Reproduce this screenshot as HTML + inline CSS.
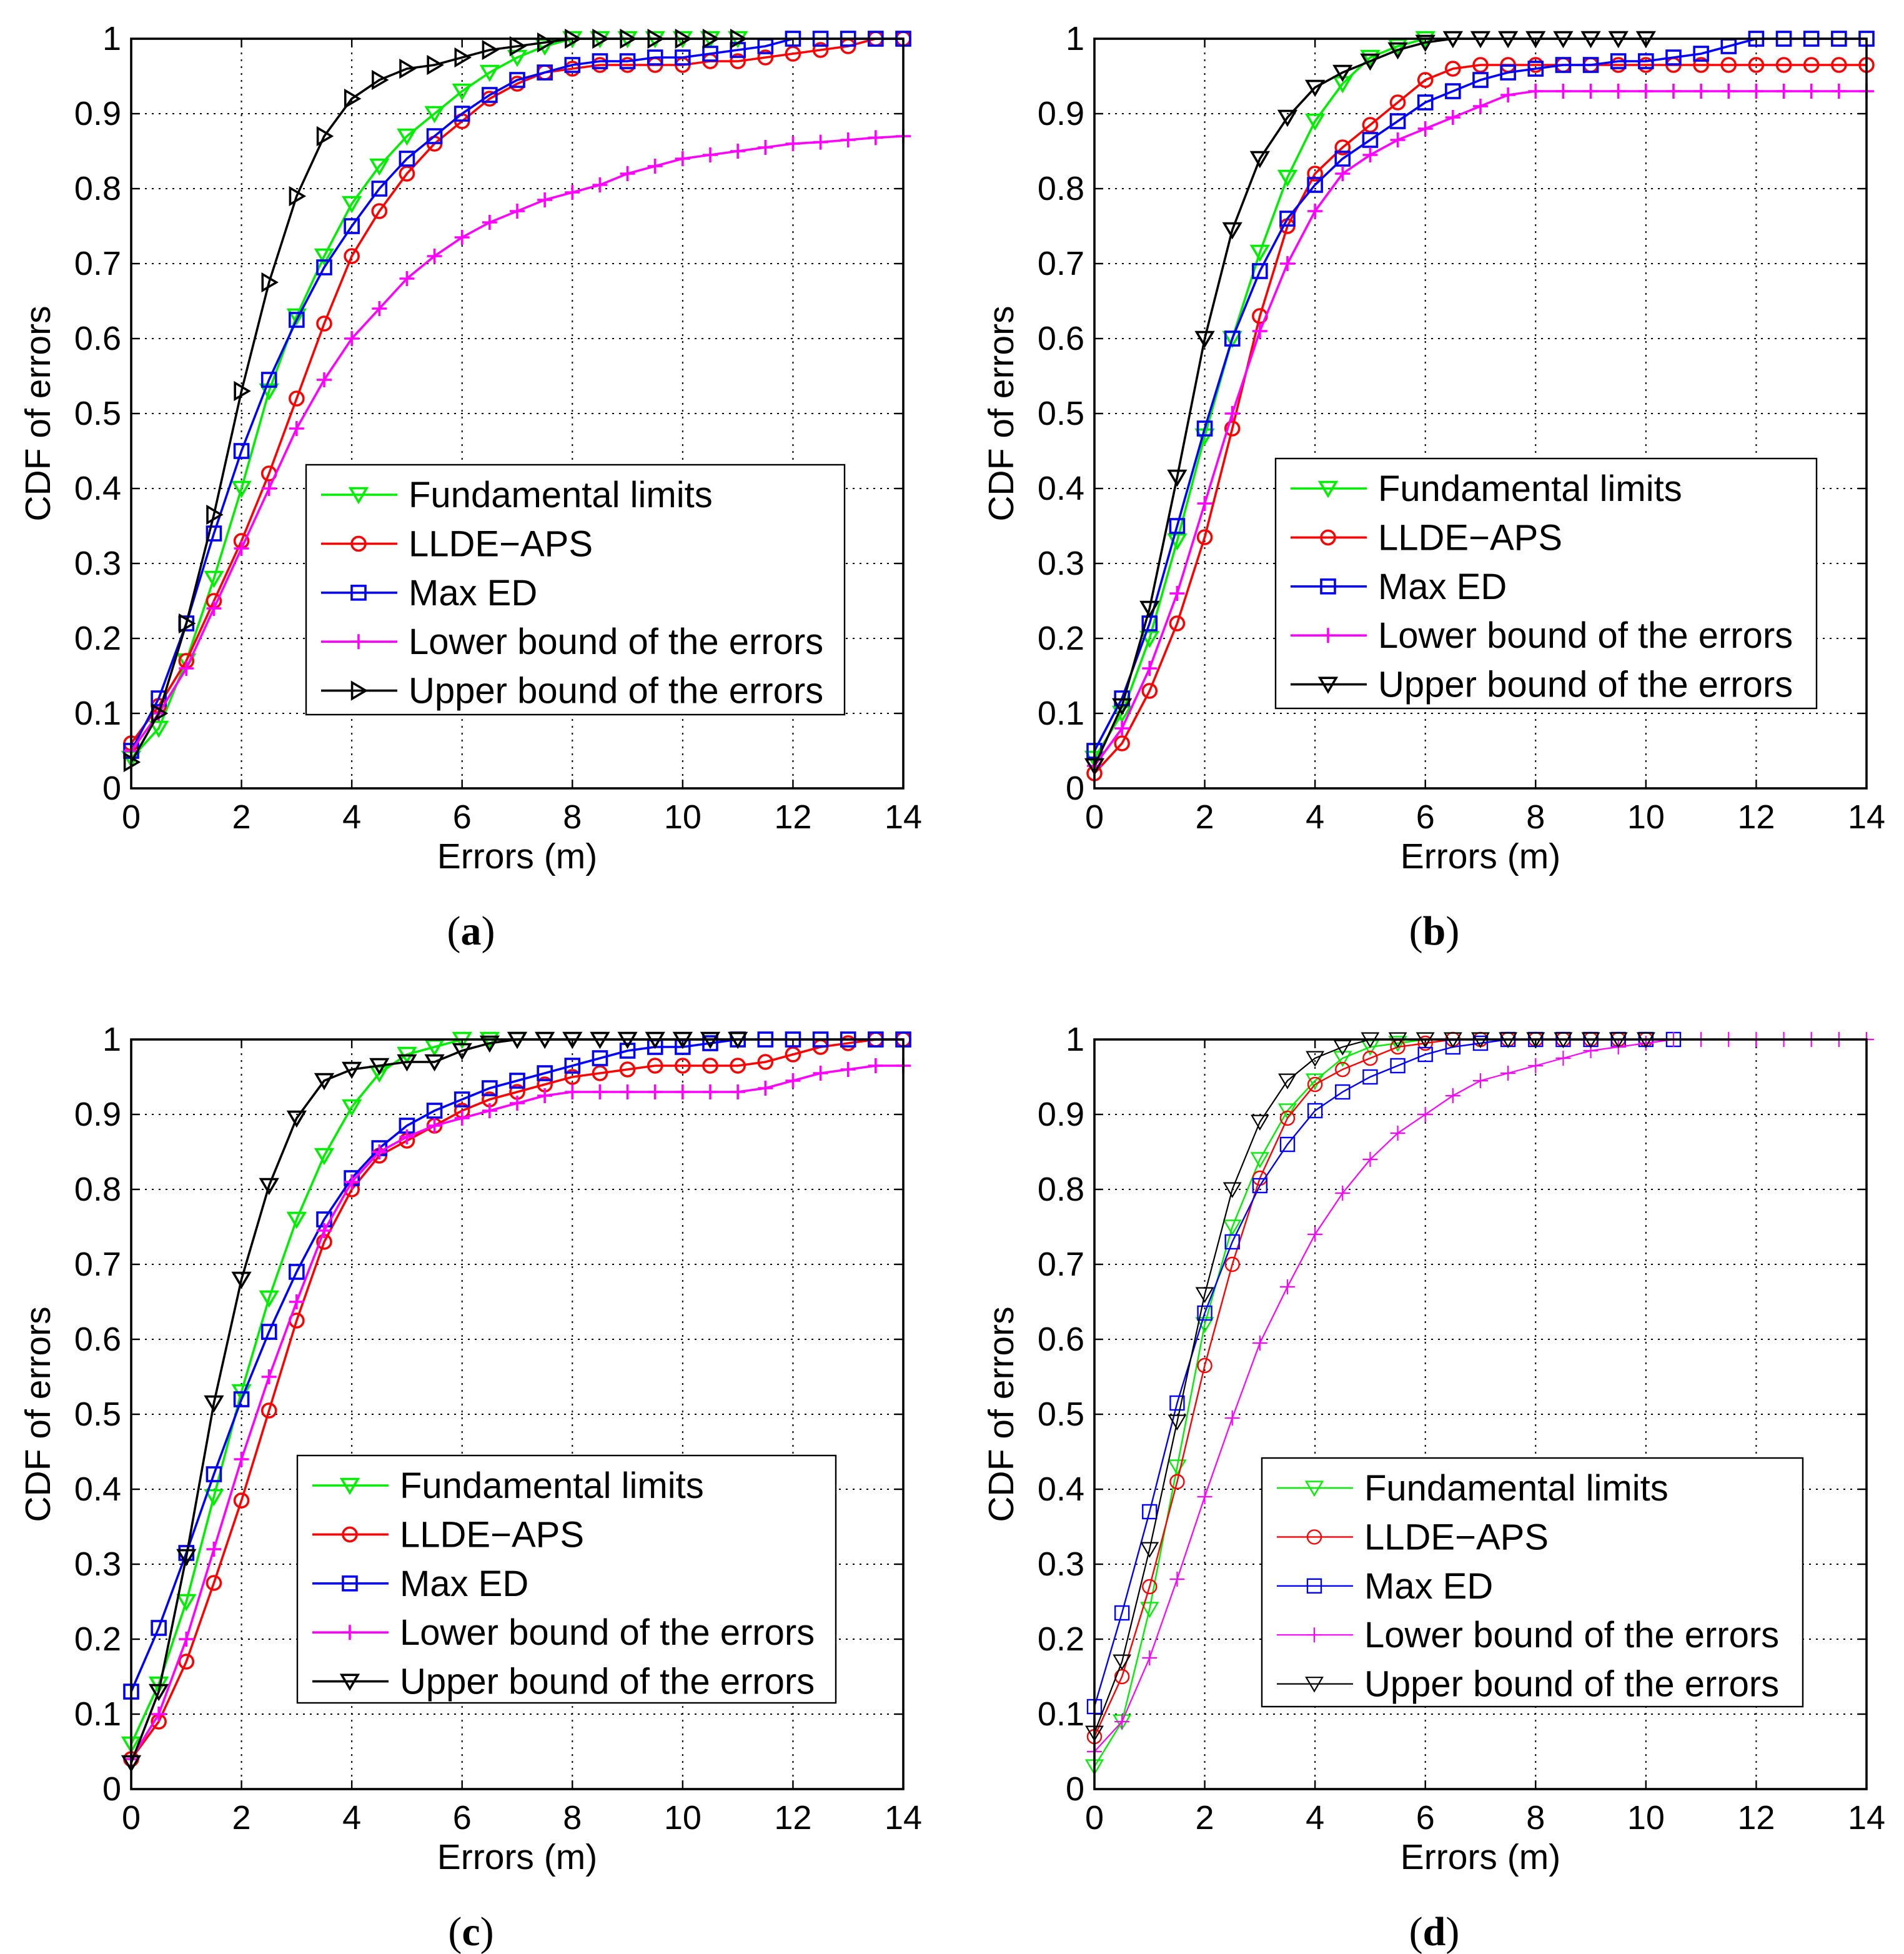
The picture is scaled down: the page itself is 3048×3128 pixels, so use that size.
<!DOCTYPE html>
<html><head><meta charset="utf-8"><style>
html,body{margin:0;padding:0;background:#fff}
svg{display:block}
</style></head><body>
<svg id="fig" width="3048" height="3128" viewBox="0 0 1524 1564" xmlns="http://www.w3.org/2000/svg"></svg>
<script>
const xTicks=[0,2,4,6,8,10,12,14];
const yTicks=[0,0.1,0.2,0.3,0.4,0.5,0.6,0.7,0.8,0.9,1];
const yTickLabels=["0","0.1","0.2","0.3","0.4","0.5","0.6","0.7","0.8","0.9","1"];
const seriesNames=["Fundamental limits","LLDE\u2212APS","Max ED","Lower bound of the errors","Upper bound of the errors"];
const xStep=0.5;
// panel (a)
const aFund=[0.04,0.08,0.17,0.28,0.40,0.53,0.63,0.71,0.78,0.83,0.87,0.90,0.93,0.955,0.975,0.99,1,1,1,1,1,1,1];
const aLlde=[0.06,0.11,0.17,0.25,0.33,0.42,0.52,0.62,0.71,0.77,0.82,0.86,0.89,0.92,0.94,0.955,0.96,0.965,0.965,0.965,0.965,0.97,0.97,0.975,0.98,0.985,0.99,1,1];
const aMax=[0.05,0.12,0.22,0.34,0.45,0.545,0.625,0.695,0.75,0.80,0.84,0.87,0.90,0.925,0.945,0.955,0.965,0.97,0.97,0.975,0.975,0.98,0.985,0.99,1,1,1,1,1];
const aLow=[0.05,0.10,0.16,0.24,0.32,0.40,0.48,0.545,0.60,0.64,0.68,0.71,0.735,0.755,0.77,0.785,0.795,0.805,0.82,0.83,0.84,0.845,0.85,0.855,0.86,0.862,0.865,0.868,0.87];
const aUp=[0.035,0.10,0.22,0.365,0.53,0.675,0.79,0.87,0.92,0.945,0.96,0.965,0.975,0.985,0.99,0.995,1,1,1,1,1,1,1];
// panel (b)
const bFund=[0.04,0.10,0.20,0.33,0.47,0.60,0.715,0.815,0.89,0.94,0.975,0.99,1];
const bLlde=[0.02,0.06,0.13,0.22,0.335,0.48,0.63,0.75,0.82,0.855,0.885,0.915,0.945,0.96,0.965,0.965,0.965,0.965,0.965,0.965,0.965,0.965,0.965,0.965,0.965,0.965,0.965,0.965,0.965];
const bMax=[0.05,0.12,0.22,0.35,0.48,0.60,0.69,0.76,0.805,0.84,0.865,0.89,0.915,0.93,0.945,0.955,0.96,0.965,0.965,0.97,0.97,0.975,0.98,0.99,1,1,1,1,1];
const bLow=[0.03,0.08,0.16,0.26,0.38,0.50,0.61,0.70,0.77,0.82,0.845,0.865,0.88,0.895,0.91,0.925,0.93,0.93,0.93,0.93,0.93,0.93,0.93,0.93,0.93,0.93,0.93,0.93,0.93];
const bUp=[0.03,0.11,0.24,0.415,0.60,0.745,0.84,0.895,0.935,0.955,0.97,0.985,0.995,1,1,1,1,1,1,1,1];
// panel (c)
const cFund=[0.06,0.14,0.25,0.39,0.53,0.655,0.76,0.845,0.91,0.955,0.98,0.99,1,1,1];
const cLlde=[0.04,0.09,0.17,0.275,0.385,0.505,0.625,0.73,0.80,0.845,0.865,0.885,0.905,0.92,0.93,0.94,0.95,0.955,0.96,0.965,0.965,0.965,0.965,0.97,0.98,0.99,0.995,1,1];
const cMax=[0.13,0.215,0.315,0.42,0.52,0.61,0.69,0.76,0.815,0.855,0.885,0.905,0.92,0.935,0.945,0.955,0.965,0.975,0.985,0.99,0.99,0.995,1,1,1,1,1,1,1];
const cLow=[0.04,0.10,0.20,0.32,0.44,0.55,0.65,0.745,0.81,0.85,0.87,0.885,0.895,0.905,0.915,0.925,0.93,0.93,0.93,0.93,0.93,0.93,0.93,0.935,0.945,0.955,0.96,0.965,0.965];
const cUp=[0.035,0.13,0.31,0.515,0.68,0.805,0.895,0.945,0.96,0.965,0.97,0.97,0.985,0.995,1,1,1,1,1,1,1,1,1];
// panel (d)
const dFund=[0.03,0.09,0.24,0.43,0.62,0.75,0.84,0.905,0.945,0.975,0.99,0.995,1,1,1,1,1,1,1,1,1];
const dLlde=[0.07,0.15,0.27,0.41,0.565,0.70,0.815,0.895,0.94,0.96,0.975,0.99,0.995,1,1,1,1,1,1,1,1];
const dMax=[0.11,0.235,0.37,0.515,0.635,0.73,0.805,0.86,0.905,0.93,0.95,0.965,0.98,0.99,0.995,1,1,1,1,1,1,1];
const dLow=[0.05,0.09,0.175,0.28,0.39,0.495,0.595,0.67,0.74,0.795,0.84,0.875,0.90,0.925,0.945,0.955,0.965,0.975,0.985,0.99,0.995,1,1,1,1,1,1,1,1];
const dUp=[0.075,0.17,0.32,0.49,0.66,0.80,0.89,0.945,0.975,0.99,1,1,1,1,1,1,1,1,1,1,1];

const NS="http://www.w3.org/2000/svg";
const svg=document.getElementById('fig');
const SANS='font-family:"Liberation Sans",sans-serif';
function mk(tag,attrs,parent){const e=document.createElementNS(NS,tag);for(const k in attrs)e.setAttribute(k,attrs[k]);(parent||svg).appendChild(e);return e;}
const colors=["#00ee00","#ff0000","#0000ff","#ff00ff","#000000"];
const panels=[
 {id:"a",x0:105,y0:31,series:[aFund,aLlde,aMax,aLow,aUp],up:"tri-right",leg:[245,372,431,200]},
 {id:"b",x0:876,y0:31,series:[bFund,bLlde,bMax,bLow,bUp],up:"tri-down",leg:[1021,367,433,200]},
 {id:"c",x0:105,y0:832,series:[cFund,cLlde,cMax,cLow,cUp],up:"tri-down",leg:[238,1165,431,198]},
 {id:"d",x0:876,y0:832,series:[dFund,dLlde,dMax,dLow,dUp],up:"tri-down",leg:[1010,1167,433,199],thin:true}
];
const W=618,H=600;
function marker(g,type,x,y,c,lw){
 const s=6.5;
 if(type==="tri-down") mk('polygon',{points:`${x-s},${y-s*0.8} ${x+s},${y-s*0.8} ${x},${y+s*0.9}`,fill:"none",stroke:c,"stroke-width":lw},g);
 else if(type==="tri-right") mk('polygon',{points:`${x-s*0.8},${y-s} ${x-s*0.8},${y+s} ${x+s*0.9},${y}`,fill:"none",stroke:c,"stroke-width":lw},g);
 else if(type==="circle") mk('circle',{cx:x,cy:y,r:5.5,fill:"none",stroke:c,"stroke-width":lw},g);
 else if(type==="square") mk('rect',{x:x-5.5,y:y-5.5,width:11,height:11,fill:"none",stroke:c,"stroke-width":lw},g);
 else if(type==="plus"){mk('line',{x1:x-6,y1:y,x2:x+6,y2:y,stroke:c,"stroke-width":lw},g);mk('line',{x1:x,y1:y-6,x2:x,y2:y+6,stroke:c,"stroke-width":lw},g);}
}
panels.forEach(p=>{
 const sx=v=>p.x0+v/14*W, sy=v=>p.y0+H-v*H;
 const g=mk('g',{});
 
 
 xTicks.forEach(t=>{if(t>0&&t<14){const l=mk('line',{x1:sx(t),y1:p.y0,x2:sx(t),y2:p.y0+H,stroke:"#000","stroke-width":1,"stroke-dasharray":"1.5,4"},g);}});
 yTicks.forEach(t=>{if(t>0&&t<1){const l=mk('line',{x1:p.x0,y1:sy(t),x2:p.x0+W,y2:sy(t),stroke:"#000","stroke-width":1,"stroke-dasharray":"1.5,4"},g);}});
 xTicks.forEach(t=>{
  mk('line',{x1:sx(t),y1:p.y0+H,x2:sx(t),y2:p.y0+H-7,stroke:"#000","stroke-width":1.2},g);
  mk('line',{x1:sx(t),y1:p.y0,x2:sx(t),y2:p.y0+7,stroke:"#000","stroke-width":1.2},g);
  const tx=mk('text',{x:sx(t),y:p.y0+H+32,"text-anchor":"middle","font-size":27,style:SANS},g);tx.textContent=t;
  
 });
 yTicks.forEach((t,i)=>{
  mk('line',{x1:p.x0,y1:sy(t),x2:p.x0+7,y2:sy(t),stroke:"#000","stroke-width":1.2},g);
  mk('line',{x1:p.x0+W,y1:sy(t),x2:p.x0+W-7,y2:sy(t),stroke:"#000","stroke-width":1.2},g);
  const tx=mk('text',{x:p.x0-8,y:sy(t)+9,"text-anchor":"end","font-size":27,style:SANS},g);tx.textContent=yTickLabels[i];
  
 });
 const types=["tri-down","circle","square","plus",p.up];
 const lw=p.thin?1.2:1.8;
 p.series.forEach((arr,si)=>{
  const sg=mk('g',{},g);
  
  
  const lwS=(p.thin&&si>=3)?1.1:lw;
  const pts=arr.map((v,i)=>sx(i*xStep)+","+sy(v)).join(" ");
  mk('polyline',{points:pts,fill:"none",stroke:colors[si],"stroke-width":lwS},sg);
  arr.forEach((v,i)=>marker(sg,types[si],sx(i*xStep),sy(v),colors[si],lwS));
 });
 const fr=mk('rect',{x:p.x0,y:p.y0,width:W,height:H,fill:"none",stroke:"#000","stroke-width":1.8},g);
 
 const xt=mk('text',{x:p.x0+W/2,y:p.y0+H+64,"text-anchor":"middle","font-size":28.5,style:SANS},g);xt.textContent="Errors (m)";
 
 const yx=p.x0-65,yy=p.y0+H/2;
 const yt=mk('text',{x:yx,y:yy,"text-anchor":"middle","font-size":28.5,style:SANS,transform:`rotate(-90 ${yx} ${yy})`},g);yt.textContent="CDF of errors";
 
 const sub=mk('text',{x:p.x0+W/2-37,y:p.y0+H+125,"text-anchor":"middle","font-size":33,style:'font-family:"Liberation Serif",serif'},g);
 sub.innerHTML='(<tspan font-weight="bold">'+p.id+'</tspan>)';
 
 const [lx,ly,lwid,lh]=p.leg;
 const lg=mk('g',{},g);
 
 
 mk('rect',{x:lx,y:ly,width:lwid,height:lh,fill:"#fff",stroke:"#000","stroke-width":1.2},lg);
 seriesNames.forEach((n,si)=>{
  const ry=ly+24+si*39.2;
  const e=mk('g',{},lg);
  
  
  const lwS=(p.thin&&si>=3)?1.1:lw;
  mk('line',{x1:lx+12,y1:ry,x2:lx+73,y2:ry,stroke:colors[si],"stroke-width":lwS},e);
  marker(e,types[si],lx+42,ry,colors[si],lwS);
  const t=mk('text',{x:lx+82,y:ry+10,"font-size":29,style:SANS},e);t.textContent=n;
 });
});
</script>
</body></html>
